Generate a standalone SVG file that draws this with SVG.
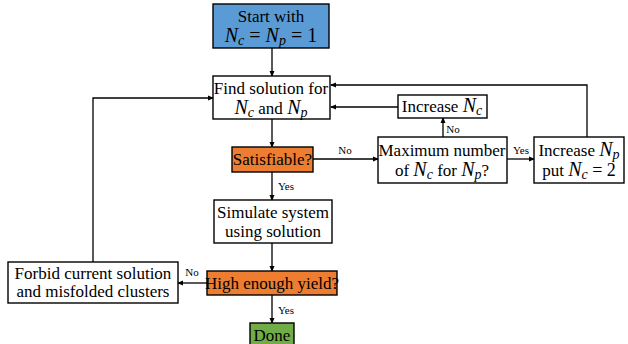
<svg xmlns="http://www.w3.org/2000/svg" width="628" height="344" viewBox="0 0 628 344">
<defs>
<marker id="ah" markerWidth="6" markerHeight="6" refX="5" refY="3" orient="auto" markerUnits="userSpaceOnUse">
<path d="M0,0.5 L6,3 L0,5.5 Z" fill="#000"/>
</marker>
<style>
.box{fill:#fff;stroke:#000;stroke-width:1.4}
.blue{fill:#5b9bd5}
.orange{fill:#ed7d31}
.green{fill:#70ad47}
.f{font-family:"Liberation Serif",serif;fill:#000;text-anchor:middle}
.t{font-size:17px;font-family:"Liberation Serif",serif}
.m{font-style:italic;font-size:20px}
.s{font-style:italic;font-size:14px}
.lbl{font-size:11px}
.c{fill:none;stroke:#000;stroke-width:1.3;marker-end:url(#ah)}
</style>
</defs>
<rect width="628" height="344" fill="#fff"/>
<g id="connectors">
<path class="c" d="M272,48 V76"/>
<path class="c" d="M272,119 V147"/>
<path class="c" d="M272,172 V200"/>
<path class="c" d="M272,243 V271"/>
<path class="c" d="M272,295 V323"/>
<path class="c" d="M313,159 H378"/>
<path class="c" d="M507,159 H534"/>
<path class="c" d="M443,137 V118"/>
<path class="c" d="M398,107 H331"/>
<path class="c" d="M587,137 V85 H331"/>
<path class="c" d="M207,283 H178"/>
<path class="c" d="M93,262 V98 H213"/>
<text class="f lbl" x="345" y="154">No</text>
<text class="f lbl" x="521" y="154">Yes</text>
<text class="f lbl" x="453" y="133">No</text>
<text class="f lbl" x="286" y="190">Yes</text>
<text class="f lbl" x="192" y="276">No</text>
<text class="f lbl" x="286" y="314">Yes</text>
</g>
<g id="start">
<rect class="box blue" x="213" y="4" width="116" height="44"/>
<text class="f t" x="271" y="22" style="font-family:'Liberation Serif'">Start with</text>
<text class="f" x="271" y="42"><tspan class="m">N</tspan><tspan class="s" dy="3">c</tspan><tspan dy="-3" font-size="20"> = </tspan><tspan class="m">N</tspan><tspan class="s" dy="3">p</tspan><tspan dy="-3" font-size="20"> = 1</tspan></text>
</g>
<g id="find">
<rect class="box" x="213" y="76" width="117" height="43"/>
<text class="f t" x="271" y="94" style="font-family:'Liberation Serif'">Find solution for</text>
<text class="f" x="271" y="114"><tspan class="m">N</tspan><tspan class="s" dy="3">c</tspan><tspan class="t" dy="-3"> and </tspan><tspan class="m">N</tspan><tspan class="s" dy="3">p</tspan></text>
</g>
<g id="satisfiable">
<rect class="box orange" x="232" y="147" width="81" height="25"/>
<text class="f t" x="272.5" y="165" style="font-family:'Liberation Serif'">Satisfiable?</text>
</g>
<g id="simulate">
<rect class="box" x="214" y="200" width="118" height="43"/>
<text class="f t" x="273" y="218" style="font-family:'Liberation Serif'">Simulate system</text>
<text class="f t" x="273" y="237" style="font-family:'Liberation Serif'">using solution</text>
</g>
<g id="high">
<rect class="box orange" x="207" y="271" width="130" height="24"/>
<text class="f t" x="272" y="289" style="font-family:'Liberation Serif'">High enough yield?</text>
</g>
<g id="done">
<rect class="box green" x="250" y="323" width="44" height="30"/>
<text class="f t" x="272" y="341" style="font-family:'Liberation Serif'">Done</text>
</g>
<g id="forbid">
<rect class="box" x="8" y="262" width="170" height="41"/>
<text class="f t" x="93" y="279" style="font-family:'Liberation Serif'">Forbid current solution</text>
<text class="f t" x="93" y="297" style="font-family:'Liberation Serif'">and misfolded clusters</text>
</g>
<g id="increase-nc">
<rect class="box" x="398" y="95" width="89" height="23"/>
<text class="f" x="442" y="112"><tspan class="t">Increase </tspan><tspan class="m">N</tspan><tspan class="s" dy="3">c</tspan></text>
</g>
<g id="maximum">
<rect class="box" x="378" y="137" width="129" height="46"/>
<text class="f t" x="442" y="156" style="font-family:'Liberation Serif'">Maximum number</text>
<text class="f" x="442" y="176"><tspan class="t">of </tspan><tspan class="m">N</tspan><tspan class="s" dy="3">c</tspan><tspan class="t" dy="-3"> for </tspan><tspan class="m">N</tspan><tspan class="s" dy="3">p</tspan><tspan class="t" dy="-3">?</tspan></text>
</g>
<g id="increase-np">
<rect class="box" x="534" y="137" width="90" height="46"/>
<text class="f" x="579" y="156"><tspan class="t">Increase </tspan><tspan class="m">N</tspan><tspan class="s" dy="3">p</tspan></text>
<text class="f" x="579" y="176"><tspan class="t">put </tspan><tspan class="m">N</tspan><tspan class="s" dy="3">c</tspan><tspan dy="-3" font-size="18"> = 2</tspan></text>
</g>
</svg>
